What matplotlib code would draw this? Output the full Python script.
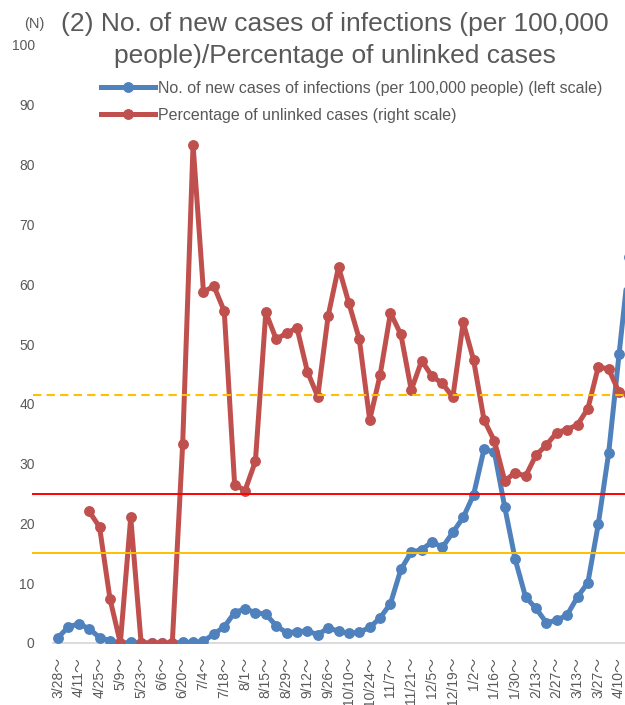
import numpy as np
import matplotlib
matplotlib.use("Agg")
import matplotlib.pyplot as plt
from matplotlib.lines import Line2D

plt.rcParams['font.family'] = ['Liberation Sans', 'Noto Sans CJK JP']

# weekly periods, label shown every two weeks
weeks = ["3/28", "4/4", "4/11", "4/18", "4/25", "5/2", "5/9", "5/16", "5/23", "5/30",
         "6/6", "6/13", "6/20", "6/27", "7/4", "7/11", "7/18", "7/25", "8/1", "8/8",
         "8/15", "8/22", "8/29", "9/5", "9/12", "9/19", "9/26", "10/3", "10/10", "10/17",
         "10/24", "10/31", "11/7", "11/14", "11/21", "11/28", "12/5", "12/12", "12/19", "12/26",
         "1/2", "1/9", "1/16", "1/23", "1/30", "2/6", "2/13", "2/20", "2/27", "3/6",
         "3/13", "3/20", "3/27", "4/3", "4/10", "4/17"]

new_cases = [0.9, 2.7, 3.2, 2.4, 0.9, 0.4, 0.0, 0.1, 0.0, 0.0,
             0.0, 0.0, 0.1, 0.1, 0.3, 1.5, 2.7, 5.1, 5.7, 5.1,
             4.8, 2.9, 1.7, 1.9, 2.0, 1.4, 2.5, 2.0, 1.6, 1.8,
             2.6, 4.2, 6.6, 12.3, 15.2, 15.6, 16.9, 16.0, 18.5, 21.0,
             24.8, 32.4, 31.9, 22.7, 14.0, 7.7, 5.8, 3.4, 3.8, 4.7,
             7.7, 10.1, 19.9, 31.8, 48.3, 64.5]

unlinked = [np.nan, np.nan, np.nan, 22.0, 19.4, 7.4, 0.0, 21.0, 0.0, 0.0,
            0.0, 0.0, 33.3, 83.3, 58.7, 59.7, 55.5, 26.5, 25.5, 30.4,
            55.3, 50.8, 51.8, 52.7, 45.4, 41.2, 54.7, 62.9, 56.8, 50.8,
            37.3, 44.8, 55.2, 51.6, 42.3, 47.2, 44.6, 43.4, 41.1, 53.6,
            47.3, 37.3, 33.8, 27.1, 28.5, 27.9, 31.4, 33.1, 35.2, 35.7,
            36.5, 39.2, 46.2, 45.8, 41.9, 41.5]

ref_levels = [15, 25, 41.5]

BLUE = "#4F81BD"
RED = "#C0504D"
GREY = "#595959"

W, H = 625, 705
fig = plt.figure(figsize=(W / 100, H / 100), dpi=100)
left_px, right_px, top_px, bot_px = 52.8, 625, 45, 643
ax = fig.add_axes([left_px / W, 1 - bot_px / H, (right_px - left_px) / W, (bot_px - top_px) / H])
ax2 = ax.twinx()

x = np.arange(len(weeks))

ax.plot(x, new_cases, color=BLUE, lw=3.6, marker="o", ms=6.8, solid_capstyle="round",
        solid_joinstyle="round", zorder=3)
ax2.plot(x, unlinked, color=RED, lw=3.6, marker="o", ms=6.8, solid_capstyle="round",
         solid_joinstyle="round", zorder=3)

for a in (ax, ax2):
    a.set_ylim(0, 100)
    a.set_xlim(-0.5, 54.57)

# reference lines reach a bit left of the plot
xmin_ext = (33 - left_px) / (right_px - left_px)
ax2.axhline(ref_levels[0], xmin=xmin_ext, xmax=1, color="#FFC000", lw=1.4, clip_on=False, zorder=5)
ax2.axhline(ref_levels[1], xmin=xmin_ext, xmax=1, color="#FF0000", lw=1.4, clip_on=False, zorder=5)
ax2.axhline(ref_levels[2], xmin=xmin_ext, xmax=1, color="#FFC000", lw=1.5, ls=(0, (4, 2.5)),
            clip_on=False, zorder=5)

ax.set_yticks(np.arange(0, 101, 10))
ax.tick_params(axis="y", length=0, pad=13, labelsize=10, labelcolor=GREY)
ax.set_xticks(x[:55:2])
ax.set_xticklabels([w + "～" for w in weeks[:55:2]], rotation=90)
ax.tick_params(axis="x", length=0, pad=10, labelsize=10, labelcolor=GREY)

for s in ["top", "left", "right"]:
    ax.spines[s].set_visible(False)
ax.spines["bottom"].set_color("#D9D9D9")
ax.spines["bottom"].set_linewidth(1.3)
for s in ax2.spines.values():
    s.set_visible(False)
ax2.set_yticks([])

fig.text(34 / W, 1 - 24 / H, "(N)", ha="center", va="center", fontsize=10.5, color=GREY)
fig.text(335 / W, 1 - 40 / H, "(2) No. of new cases of infections (per 100,000\npeople)/Percentage of unlinked cases",
         ha="center", va="center", fontsize=19, color=GREY, linespacing=1.45)

handles = [Line2D([], [], color=BLUE, lw=3.6, marker="o", ms=6.8),
           Line2D([], [], color=RED, lw=3.6, marker="o", ms=6.8)]
labels = ["No. of new cases of infections (per 100,000 people) (left scale)",
          "Percentage of unlinked cases (right scale)"]
leg = fig.legend(handles, labels, loc="upper left", bbox_to_anchor=(101 / W, 1 - 81 / H),
                 frameon=False, fontsize=11.5, handlelength=3.4, handletextpad=0.2,
                 borderpad=0, borderaxespad=0, labelspacing=0.75, labelcolor=GREY)

fig.savefig("out.png", dpi=100)
